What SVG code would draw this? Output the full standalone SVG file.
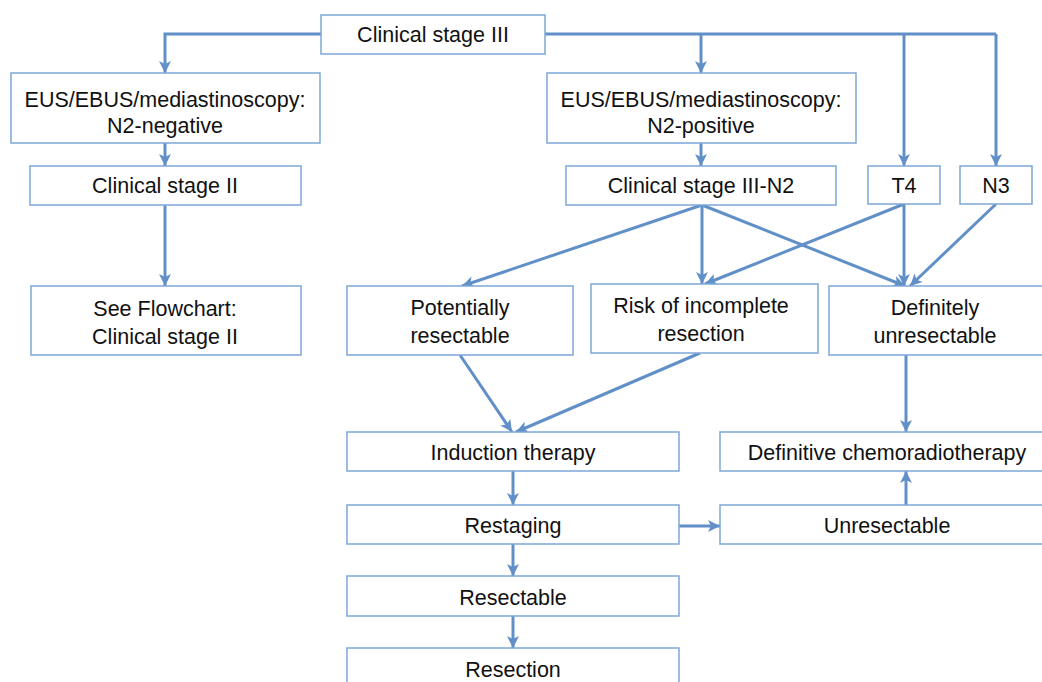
<svg xmlns="http://www.w3.org/2000/svg" width="1042" height="682" viewBox="0 0 1042 682">
<style>
.box{fill:#fff;stroke:#7ea6d8;stroke-width:1.5}
.t{font-family:"Liberation Sans",Arial,sans-serif;font-size:21.5px;fill:#111;text-anchor:middle}
.c{fill:none;stroke:#6190c8;stroke-width:3;stroke-linejoin:miter}
.a{marker-end:url(#arr)}
</style>
<defs>
<marker id="arr" viewBox="0 0 14 14" refX="13" refY="7" markerWidth="14" markerHeight="14" markerUnits="userSpaceOnUse" orient="auto">
<path d="M1,1 L13,7 L1,13 L4,7 z" fill="#6190c8"/>
</marker>
</defs>
<rect width="1042" height="682" fill="#fff"/>
<g id="connectors">
<path class="c a" d="M321,34 H165 V73"/>
<path class="c" d="M545,34 H996"/>
<path class="c a" d="M996,34 V166"/>
<path class="c a" d="M701,34 V73"/>
<path class="c a" d="M904,34 V166"/>
<path class="c a" d="M165,143 V166"/>
<path class="c a" d="M165,205 V286"/>
<path class="c a" d="M701,143 V166"/>
<path class="c a" d="M702,205 L462,286"/>
<path class="c a" d="M702,205 V284"/>
<path class="c a" d="M702,205 L905,286"/>
<path class="c a" d="M904,204 L705,284"/>
<path class="c a" d="M904,204 V286"/>
<path class="c a" d="M996,204 L910,286"/>
<path class="c a" d="M460,355 L512,432"/>
<path class="c a" d="M700,353 L516,432"/>
<path class="c a" d="M906,355 V432"/>
<path class="c a" d="M513,471 V505"/>
<path class="c a" d="M679,526 H720"/>
<path class="c a" d="M906,505 V471"/>
<path class="c a" d="M513,544 V576"/>
<path class="c a" d="M513,616 V648"/>
</g>
<g id="n_cs3"><rect class="box" x="321" y="15" width="224" height="39"/><text class="t" x="433" y="42">Clinical stage III</text></g>
<g id="n_eus_neg"><rect class="box" x="11" y="73" width="309" height="70"/><text class="t" x="165" y="107">EUS/EBUS/mediastinoscopy:</text><text class="t" x="165" y="133">N2-negative</text></g>
<g id="n_eus_pos"><rect class="box" x="547" y="73" width="309" height="70"/><text class="t" x="701" y="107">EUS/EBUS/mediastinoscopy:</text><text class="t" x="701" y="133">N2-positive</text></g>
<g id="n_cs2"><rect class="box" x="30" y="166" width="271" height="39"/><text class="t" x="165" y="193">Clinical stage II</text></g>
<g id="n_cs3n2"><rect class="box" x="566" y="166" width="270" height="39"/><text class="t" x="701" y="193">Clinical stage III-N2</text></g>
<g id="n_t4"><rect class="box" x="868" y="166" width="72" height="38"/><text class="t" x="904" y="193">T4</text></g>
<g id="n_n3"><rect class="box" x="960" y="166" width="72" height="38"/><text class="t" x="996" y="193">N3</text></g>
<g id="n_flow"><rect class="box" x="31" y="286" width="270" height="69"/><text class="t" x="165" y="316">See Flowchart:</text><text class="t" x="165" y="344">Clinical stage II</text></g>
<g id="n_pot"><rect class="box" x="347" y="286" width="226" height="69"/><text class="t" x="460" y="315">Potentially</text><text class="t" x="460" y="343">resectable</text></g>
<g id="n_risk"><rect class="box" x="591" y="284" width="227" height="69"/><text class="t" x="701" y="313">Risk of incomplete</text><text class="t" x="701" y="341">resection</text></g>
<g id="n_def"><rect class="box" x="829" y="286" width="215" height="69"/><text class="t" x="935" y="315">Definitely</text><text class="t" x="935" y="343">unresectable</text></g>
<g id="n_ind"><rect class="box" x="347" y="432" width="332" height="39"/><text class="t" x="513" y="460">Induction therapy</text></g>
<g id="n_dcrt"><rect class="box" x="720" y="432" width="324" height="39"/><text class="t" x="887" y="460">Definitive chemoradiotherapy</text></g>
<g id="n_rest"><rect class="box" x="347" y="505" width="332" height="39"/><text class="t" x="513" y="533">Restaging</text></g>
<g id="n_unres"><rect class="box" x="720" y="505" width="324" height="39"/><text class="t" x="887" y="533">Unresectable</text></g>
<g id="n_resb"><rect class="box" x="347" y="576" width="332" height="40"/><text class="t" x="513" y="605">Resectable</text></g>
<g id="n_resn"><rect class="box" x="347" y="648" width="332" height="40"/><text class="t" x="513" y="677">Resection</text></g>
</svg>
